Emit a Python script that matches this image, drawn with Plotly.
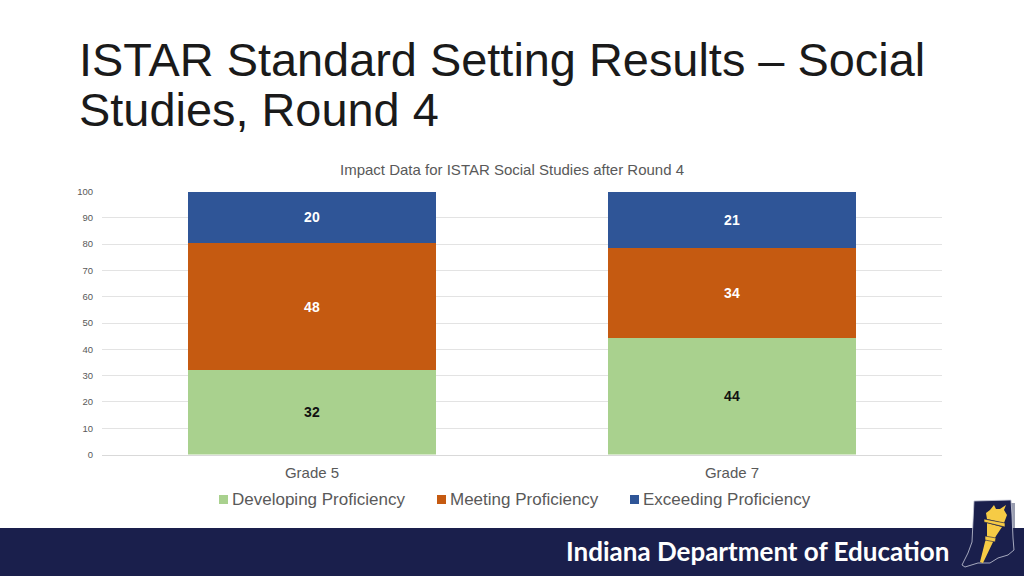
import plotly.graph_objects as go

categories = ["Grade 5", "Grade 7"]
developing = [32.1, 44.3]
meeting = [48.3, 34.4]
exceeding = [19.6, 21.3]
series_names = ["Developing Proficiency", "Meeting Proficiency", "Exceeding Proficiency"]
colors = ["#A9D18E", "#C55A11", "#2F5597"]
label_colors = ["#111111", "#FFFFFF", "#FFFFFF"]
tick_values = [0, 10, 20, 30, 40, 50, 60, 70, 80, 90, 100]
title_lines = ["ISTAR Standard Setting Results – Social", "Studies, Round 4"]
chart_title = "Impact Data for ISTAR Social Studies after Round 4"
footer_text = "Indiana Department of Education"

W, H = 1024, 576
SANS = "Liberation Sans, Arial, sans-serif"
GREY = "#595959"
NAVY = "#1A1F4C"
GOLD = "#F6CB45"


def px(x):
    return x / W


def py(y):
    return 1 - y / H


def path(points):
    return "M " + " L ".join(f"{px(x):.5f},{py(y):.5f}" for x, y in points) + " Z"


def logo_part(points, fill, line=None):
    return dict(type="path", xref="paper", yref="paper", layer="above", path=path(points),
                fillcolor=fill, line=line or dict(width=0))


fig = go.Figure()
for name, values, color, label_color in zip(
    series_names, [developing, meeting, exceeding], colors, label_colors
):
    fig.add_trace(
        go.Bar(
            x=categories,
            y=values,
            name=name,
            marker=dict(color=color, line=dict(width=0)),
            texttemplate="%{y:.0f}",
            textposition="inside",
            insidetextanchor="middle",
            textangle=0,
            textfont=dict(family=SANS, size=14, color=label_color, weight="bold"),
            showlegend=False,
        )
    )

shapes = [
    dict(type="rect", xref="paper", yref="paper", x0=0, x1=1, y0=py(576), y1=py(528),
         fillcolor=NAVY, line_width=0, layer="above"),
    logo_part([(1011, 503), (1015, 503), (1015, 528), (1011, 528)], "#9A9EB0"),
    logo_part([(974, 501), (1011, 500), (1012, 515), (1013, 538), (1014, 550), (1008, 555),
               (998, 558), (990, 563), (978, 563), (965, 567), (962, 565), (968, 553),
               (972, 542)], NAVY, dict(color="#C9CCDA", width=0.8)),
    logo_part([(987, 523), (1002, 527), (996, 536), (993, 542), (983, 563), (980, 562),
               (985, 542), (987, 537)], GOLD),
    logo_part([(987, 519), (986, 513), (990, 510), (994, 505), (996, 509), (1000, 509),
               (1006, 505), (1004, 510), (1007, 515), (1004, 523)], GOLD),
    logo_part([(984, 519), (1005, 523), (1005, 527), (984, 522)], GOLD, dict(color=NAVY, width=0.6)),
    logo_part([(985, 536), (996, 538), (995, 542), (985, 540)], GOLD, dict(color=NAVY, width=0.6)),
]

annotations = [
    dict(text=title_lines[0], x=px(79), y=py(60), xanchor="left", yanchor="middle",
         font=dict(family=SANS, size=46.9, color="#1A1A1A")),
    dict(text=title_lines[1], x=px(79), y=py(110), xanchor="left", yanchor="middle",
         font=dict(family=SANS, size=46.9, color="#1A1A1A")),
    dict(text=chart_title, x=px(512), y=py(170), xanchor="center", yanchor="middle",
         font=dict(family=SANS, size=15, color=GREY)),
    dict(text=footer_text, x=px(566), y=py(551), xanchor="left", yanchor="middle",
         font=dict(family="Lato, sans-serif", size=26, color="#FFFFFF", weight="bold")),
]

legend_x = [219, 437, 630]
for name, color, lx in zip(series_names, colors, legend_x):
    shapes.append(dict(type="rect", xref="paper", yref="paper",
                       x0=px(lx), x1=px(lx + 9), y0=py(504), y1=py(495),
                       fillcolor=color, line_width=0))
    annotations.append(dict(text=name, x=px(lx + 13), y=py(499.5), xanchor="left", yanchor="middle",
                            font=dict(family=SANS, size=17, color=GREY)))

for a in annotations:
    a.update(xref="paper", yref="paper", showarrow=False, borderpad=0, borderwidth=0)

fig.update_layout(
    width=W,
    height=H,
    margin=dict(l=0, r=0, t=0, b=0, pad=0, autoexpand=False),
    paper_bgcolor="#FFFFFF",
    plot_bgcolor="#FFFFFF",
    barmode="stack",
    bargap=0.41,
    showlegend=False,
    shapes=shapes,
    annotations=annotations,
    xaxis=dict(
        domain=[px(102), px(942)],
        anchor="y",
        automargin=False,
        showgrid=False,
        showline=True,
        linecolor="#D9D9D9",
        linewidth=1,
        ticks="",
        ticklabelstandoff=4,
        tickfont=dict(family=SANS, size=15, color=GREY),
    ),
    yaxis=dict(
        domain=[py(454.5), py(191.5)],
        anchor="x",
        automargin=False,
        range=[0, 100],
        tickmode="array",
        tickvals=tick_values,
        ticktext=[str(v) for v in tick_values],
        showgrid=True,
        gridcolor="#E3E3E3",
        gridwidth=1,
        zeroline=False,
        showline=False,
        ticks="",
        ticklabelstandoff=8,
        tickfont=dict(family=SANS, size=9.5, color=GREY),
    ),
)

fig.write_html("out.html", config=dict(displayModeBar=False),
               post_script="document.body.style.margin='0';document.body.style.overflow='hidden';")
